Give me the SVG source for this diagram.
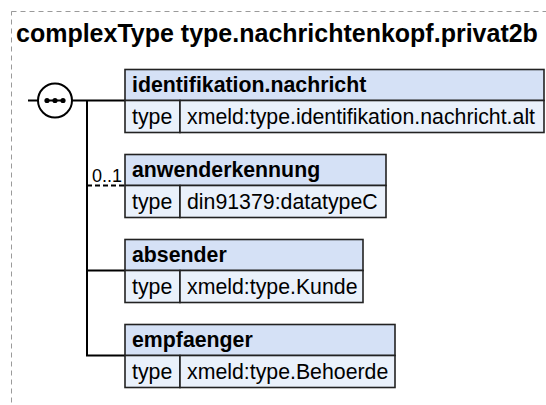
<svg xmlns="http://www.w3.org/2000/svg" width="546" height="405" viewBox="0 0 546 405">
<style>
.frame{fill:none;stroke:#9a9a9a;stroke-width:1;stroke-dasharray:5,4}
.title{font-family:"Liberation Sans",Arial,sans-serif;font-weight:bold;font-size:25px;fill:#000}
.hdr{fill:#d5e1f6;stroke:#222;stroke-width:1.6}
.row{fill:#eaf1fb;stroke:#222;stroke-width:1.6}
.name{font-family:"Liberation Sans",Arial,sans-serif;font-weight:bold;font-size:21.3px;fill:#000}
.txt{font-family:"Liberation Sans",Arial,sans-serif;font-size:21.3px;fill:#000}
.occ{font-family:"Liberation Sans",Arial,sans-serif;font-size:18px;fill:#000}
.con{fill:none;stroke:#000;stroke-width:2}
.opt{fill:none;stroke:#000;stroke-width:2;stroke-dasharray:5,3}
</style>
<rect class="frame" x="11.5" y="11.5" width="600" height="500"/>
<text class="title" x="16" y="42">complexType type.nachrichtenkopf.privat2b</text>
<g id="connectors">
<line class="con" x1="28" y1="100.5" x2="38" y2="100.5"/>
<line class="con" x1="72" y1="100.5" x2="125" y2="100.5"/>
<polyline class="con" points="87,100.5 87,355.5 125,355.5"/>
<line class="opt" x1="87" y1="185.5" x2="125" y2="185.5"/>
<line class="con" x1="87" y1="270.5" x2="125" y2="270.5"/>
<text class="occ" x="92" y="182">0..1</text>
</g>
<g id="sequence">
<circle cx="55" cy="100.5" r="17" fill="#fff" stroke="#000" stroke-width="2"/>
<line x1="46" y1="100.5" x2="64" y2="100.5" stroke="#000" stroke-width="2"/>
<circle cx="47" cy="100.5" r="2.6" fill="#000"/>
<circle cx="55" cy="100.5" r="2.6" fill="#000"/>
<circle cx="63" cy="100.5" r="2.6" fill="#000"/>
</g>
<g id="identifikation.nachricht">
<rect class="hdr" x="125" y="69.5" width="419" height="31"/>
<rect class="row" x="125" y="100.5" width="55" height="32"/>
<rect class="row" x="180" y="100.5" width="364" height="32"/>
<text class="name" x="132" y="92">identifikation.nachricht</text>
<text class="txt" x="132" y="124">type</text>
<text class="txt" x="187" y="124">xmeld:type.identifikation.nachricht.alt</text>
</g>
<g id="anwenderkennung">
<rect class="hdr" x="125" y="154.5" width="261" height="31"/>
<rect class="row" x="125" y="185.5" width="55" height="32"/>
<rect class="row" x="180" y="185.5" width="206" height="32"/>
<text class="name" x="132" y="177">anwenderkennung</text>
<text class="txt" x="132" y="209">type</text>
<text class="txt" x="187" y="209">din91379:datatypeC</text>
</g>
<g id="absender">
<rect class="hdr" x="125" y="239.5" width="238" height="31"/>
<rect class="row" x="125" y="270.5" width="55" height="32"/>
<rect class="row" x="180" y="270.5" width="183" height="32"/>
<text class="name" x="132" y="262">absender</text>
<text class="txt" x="132" y="294">type</text>
<text class="txt" x="187" y="294">xmeld:type.Kunde</text>
</g>
<g id="empfaenger">
<rect class="hdr" x="125" y="324.5" width="270" height="31"/>
<rect class="row" x="125" y="355.5" width="55" height="32"/>
<rect class="row" x="180" y="355.5" width="215" height="32"/>
<text class="name" x="132" y="347">empfaenger</text>
<text class="txt" x="132" y="379">type</text>
<text class="txt" x="187" y="379">xmeld:type.Behoerde</text>
</g>
</svg>
